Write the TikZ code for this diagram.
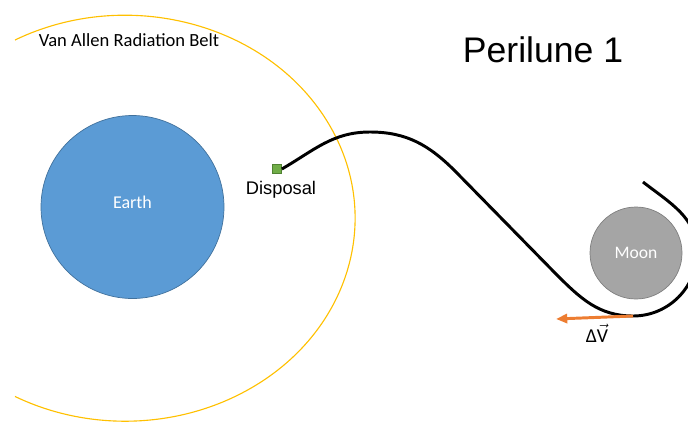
\documentclass[tikz,border=0pt]{standalone}
\usepackage{amsmath}
\usepackage{fontspec}
\setmainfont{Liberation Sans}
\newfontfamily\calibri{Carlito}
\usetikzlibrary{arrows.meta, positioning}
\definecolor{earthblue}{RGB}{91, 155, 213}
\definecolor{earthedge}{RGB}{65, 113, 156}
\definecolor{moongray}{RGB}{165, 165, 165}
\definecolor{moonedge}{RGB}{127, 127, 127}
\definecolor{beltyellow}{RGB}{255, 192, 0}
\definecolor{burnorange}{RGB}{237, 125, 49}
\definecolor{disposegreen}{RGB}{112, 173, 71}
\definecolor{disposeedge}{RGB}{80, 130, 50}

\begin{document}
\begin{tikzpicture}[
    x=0.025cm, y=-0.025cm,
    >=Triangle,
    body/.style={
        circle, draw=#1, line width=0.5pt,
        inner sep=0pt, text=white
    },
    marker/.style={
        rectangle, draw=disposeedge, fill=disposegreen,
        line width=0.4pt, minimum size=6.5pt, inner sep=0pt
    },
    textlabel/.style={font=\fontsize{#1}{#1}\selectfont, inner sep=1pt},
    calilabel/.style={font=\calibri\fontsize{#1}{#1}\selectfont, inner sep=1pt},
    belt/.style={draw=beltyellow, line width=0.8pt},
    orbit/.style={draw=black, line width=2.1pt},
    burn/.style={draw=burnorange, line width=2.1pt,
        arrows={-Triangle[length=8pt, width=6.5pt]}}
]
\useasboundingbox (0,0) rectangle (688,422);

% ==============================================================================
% EARTH AND RADIATION BELT
% ==============================================================================
\draw[belt] (15,40) arc[start angle=-118.6, end angle=118.6, x radius=230, y radius=203];
\node[calilabel=13.2] (beltlabel) at (129,40) {Van Allen Radiation Belt};

\node[body=earthedge, fill=earthblue, minimum size=183*0.025cm, calilabel=12.8,
    text depth=0.25cm] (earth) at (132.5,207) {Earth};

% ==============================================================================
% MOON AND PERILUNE
% ==============================================================================
\node[body=moonedge, fill=moongray, minimum size=92*0.025cm, calilabel=12.5] (moon) at (636,253) {Moon};
\node[textlabel=25.3] (title) at (543,50) {Perilune 1};

% ==============================================================================
% TRAJECTORY
% ==============================================================================
\node[marker] (disposal) at (277,169) {};
\node[textlabel=13] (disposallabel) at (281,190) {Disposal};
\coordinate (perilune) at (633,316);
\coordinate (burnend) at (556,319);
\coordinate (returnend) at (643,182);

\begin{scope}
    \clip (0,0) rectangle (688,422);
    \draw[orbit] (disposal.east) to[out=30, in=180] (370,132)
        to[out=0, in=135] (455,171)
        -- (556,274)
        to[out=-45, in=180] (perilune)
        to[out=0, in=-90] (697,252)
        to[out=90, in=-38] (returnend);
\end{scope}

\draw[burn] (perilune) -- (burnend);
\node[calilabel=14] (dvlabel) at (597,333) {Δ$\vec{\text{V}}$};

\end{tikzpicture}
\end{document}
